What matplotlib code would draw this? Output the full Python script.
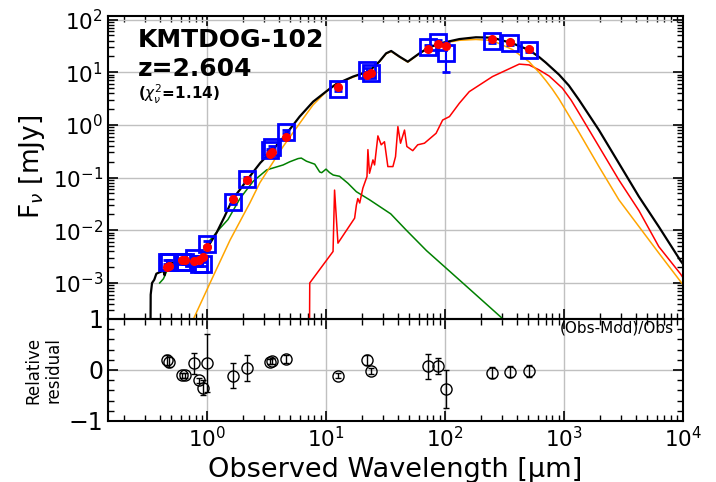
import matplotlib
matplotlib.use('Agg')
import matplotlib.pyplot as plt
import matplotlib.ticker as ticker
import numpy as np

# observed photometry (wavelength in micron, flux in mJy)
obs_wave = [0.458, 0.48, 0.62, 0.65, 0.78, 0.86, 0.92, 1.0, 1.64, 2.15, 3.35, 3.55, 4.6,
            12.5, 22.2, 23.7, 71.5, 88.0, 102.0, 250.0, 352.0, 510.0]
obs_flux = [2.5e-3, 2.5e-3, 2.45e-3, 2.5e-3, 3.0e-3, 2.3e-3, 2.3e-3, 5.6e-3, 0.035, 0.093, 0.336, 0.377, 0.75,
            4.8, 11.2, 9.7, 29.7, 37.0, 23.0, 40.0, 36.0, 26.8]
obs_err = [2.5e-4, 2.5e-4, 2.0e-4, 2.0e-4, 3.0e-4, 2.0e-4, 2.0e-4, 6.0e-4, 3.5e-3, 9.0e-3, 0.02, 0.02, 0.06,
           0.3, 1.0, 0.6, 3.0, 4.0, 13.0, 3.5, 3.0, 2.5]
# relative residuals (Obs-Mod)/Obs and their errors
resid = [0.2, 0.16, -0.1, -0.1, 0.13, -0.2, -0.35, 0.13, -0.11, 0.04, 0.16, 0.18, 0.21,
         -0.11, 0.2, -0.02, 0.07, 0.08, -0.38, -0.05, -0.03, -0.02]
resid_err = [0.1, 0.1, 0.05, 0.05, 0.2, 0.05, 0.15, 0.57, 0.25, 0.25, 0.05, 0.06, 0.08,
             0.05, 0.1, 0.05, 0.25, 0.15, 0.37, 0.1, 0.1, 0.12]

# total model spectrum
tot_wave = [0.333, 0.336, 0.345, 0.36, 0.375, 0.40, 0.43, 0.44, 0.45, 0.48, 0.55, 0.63, 0.75, 0.87,
            0.95, 1.0, 1.2, 1.4, 1.64, 1.9, 2.15, 2.8, 3.5, 4.6, 6.0, 7.8, 10.0, 12.2, 16.9, 23.0,
            28.0, 32.0, 35.3, 41.5, 48.7, 61.0, 74.0, 96.0, 132.0, 182.0, 251.0, 369.0, 509.0,
            618.0, 703.0, 910.0, 1100.0, 1340.0, 1968.0, 2898.0, 4266.0, 6270.0, 9530.0, 10000.0]
tot_flux = [1e-5, 6e-4, 1.0e-3, 1.15e-3, 1.5e-3, 1.6e-3, 1.7e-3, 1.4e-3, 2.1e-3, 2.3e-3, 2.5e-3, 2.7e-3,
            2.7e-3, 2.8e-3, 3.6e-3, 4.6e-3, 8.9e-3, 0.018, 0.039, 0.060, 0.088, 0.19, 0.32, 0.66,
            1.44, 2.77, 4.3, 6.0, 8.3, 10.5, 15.9, 22.9, 25.4, 19.8, 15.9, 22.9, 30.0, 36.4, 42.7,
            46.2, 45.4, 35.5, 26.5, 19.5, 15.3, 9.0, 5.6, 2.98, 0.80, 0.187, 0.0436, 0.0117, 2.66e-3, 2.3e-3]

# AGN component
agn_wave = [0.72, 1.06, 1.56, 2.29, 2.78, 4.36, 6.02, 7.78, 10.7, 12.2, 16.9, 23.0, 28.0, 32.0,
            35.3, 41.5, 48.7, 61.0, 74.0, 96.0, 132.0, 182.0, 251.0, 369.0, 509.0, 543.0, 618.0,
            703.0, 798.0, 910.0, 1340.0, 1968.0, 2898.0, 4266.0, 6270.0, 9530.0, 10000.0]
agn_flux = [1.5e-4, 1.0e-3, 6.5e-3, 0.033, 0.08, 0.39, 1.08, 2.4, 4.97, 6.0, 8.1, 10.3, 15.6, 22.5,
            25.0, 19.5, 15.6, 22.5, 29.5, 35.5, 40.5, 42.0, 40.0, 27.0, 15.9, 13.5, 10.0,
            7.0, 4.8, 3.1, 0.72, 0.162, 0.0378, 0.0118, 3.7e-3, 1.07e-3, 9.3e-4]

# dust emission
dust_wave = [7.25, 7.3, 11.46, 11.8, 12.6, 17.4, 18.0, 18.5, 19.2, 20.4, 22.1, 22.5, 23.2, 24.8,
             25.6, 27.3, 29.1, 31.0, 33.1, 36.5, 38.4, 40.2, 42.3, 45.7, 47.8, 53.6, 59.0, 67.2,
             84.2, 95.6, 109.0, 132.0, 160.0, 251.0, 421.0, 509.0, 618.0, 750.0, 970.0, 1150.0,
             1340.0, 1968.0, 2898.0, 4266.0, 6270.0, 9530.0, 10000.0]
dust_flux = [5e-5, 1.0e-3, 3.96e-3, 0.058, 5.7e-3, 0.017, 0.03, 0.04, 0.033, 0.063, 0.105, 0.34,
             0.121, 0.217, 0.174, 0.62, 0.42, 0.48, 0.162, 0.162, 0.25, 0.93, 0.45, 0.80, 0.39,
             0.325, 0.42, 0.45, 0.695, 1.24, 1.44, 2.58, 4.29, 8.3, 14.3, 13.8, 11.1, 8.5, 5.0, 2.95,
             1.67, 0.39, 0.09, 0.0237, 4.9e-3, 1.49e-3, 1.27e-3]

# attenuated stellar emission
star_wave = [0.40, 0.43, 0.47, 0.6, 0.8, 0.95, 1.06, 1.29, 1.5, 1.89, 2.44, 3.17, 4.36, 4.96, 5.83,
             6.2, 6.85, 8.04, 8.85, 9.2, 10.0, 10.7, 11.5, 13.0, 15.3, 18.0, 23.2, 35.0, 47.0,
             70.0, 100.0, 141.0, 305.0, 330.0]
star_flux = [1.0e-3, 1.2e-3, 1.9e-3, 2.4e-3, 2.6e-3, 3.5e-3, 6.5e-3, 0.011, 0.016, 0.040, 0.085,
             0.14, 0.174, 0.2, 0.23, 0.235, 0.205, 0.18, 0.128, 0.124, 0.145, 0.125, 0.112,
             0.106, 0.078, 0.054, 0.038, 0.0205, 0.0102, 4.1e-3, 2.0e-3, 1.0e-3, 2.1e-4, 1.8e-4]

# model fluxes in each band follow from the residual definition
mod_flux = [f * (1 - r) for f, r in zip(obs_flux, resid)]

fig = plt.figure(figsize=(7.16, 4.82), dpi=100)
ax1 = fig.add_axes([0.1508, 0.3382, 0.803, 0.6292])
ax2 = fig.add_axes([0.1508, 0.1266, 0.803, 0.2116], sharex=ax1)

ax1.plot(star_wave, star_flux, color='green', lw=1.1)
ax1.plot(dust_wave, dust_flux, color='red', lw=1.1)
ax1.plot(agn_wave, agn_flux, color='orange', lw=1.1)
ax1.plot(tot_wave, tot_flux, color='black', lw=1.6)
ax1.errorbar(obs_wave, obs_flux, yerr=obs_err, fmt='s', ms=11, mfc='none', mec='blue',
             mew=2, ecolor='blue', elinewidth=1.5, capsize=3, zorder=5)
ax1.plot(obs_wave, mod_flux, 'o', color='red', ms=5.5, zorder=6)

ax1.set_xscale('log')
ax1.set_yscale('log')
ax1.set_xlim(0.147, 1e4)
ax1.set_ylim(2.07e-4, 118.6)
ax1.set_ylabel(r'F$_\nu$ [mJy]', fontsize=19)
ax1.grid(True, color='#c0c0c0', lw=1)
ax1.tick_params(labelbottom=False)

ax1.text(0.052, 0.96, 'KMTDOG-102', transform=ax1.transAxes, fontsize=18,
         fontweight='bold', va='top')
ax1.text(0.052, 0.865, 'z=2.604', transform=ax1.transAxes, fontsize=18,
         fontweight='bold', va='top')
ax1.text(0.052, 0.78, r'($\chi^2_\nu$=1.14)', transform=ax1.transAxes, fontsize=11,
         fontweight='bold', va='top')

ax2.errorbar(obs_wave, resid, yerr=resid_err, fmt='o', ms=8, mfc='none', mec='black',
             mew=1, ecolor='black', elinewidth=1, capsize=2)
ax2.set_ylim(-1, 1)
ax2.yaxis.set_major_locator(ticker.MultipleLocator(1))
ax2.yaxis.set_minor_locator(ticker.MultipleLocator(0.2))
ax2.grid(True, color='#c0c0c0', lw=1)
ax2.set_xlabel(u'Observed Wavelength [\u00b5m]', fontsize=19.5)
ax2.set_ylabel('Relative\nresidual', fontsize=12)
ax2.text(0.985, 0.985, '(Obs-Mod)/Obs', transform=ax2.transAxes, fontsize=11,
         ha='right', va='top')

for ax in (ax1, ax2):
    ax.tick_params(which='both', direction='in', top=True, right=True, labelsize=15.5)
    ax.tick_params(which='major', length=7, width=1.2)
    ax.tick_params(which='minor', length=4, width=1)
    for s in ax.spines.values():
        s.set_linewidth(1.5)
    ax.set_axisbelow(True)
ax2.tick_params(axis='y', labelsize=17)

ax2.xaxis.set_major_locator(ticker.LogLocator(base=10, numticks=20))
ax2.xaxis.set_minor_locator(ticker.LogLocator(base=10, subs=np.arange(2, 10), numticks=20))

plt.savefig('out.png', dpi=100)
